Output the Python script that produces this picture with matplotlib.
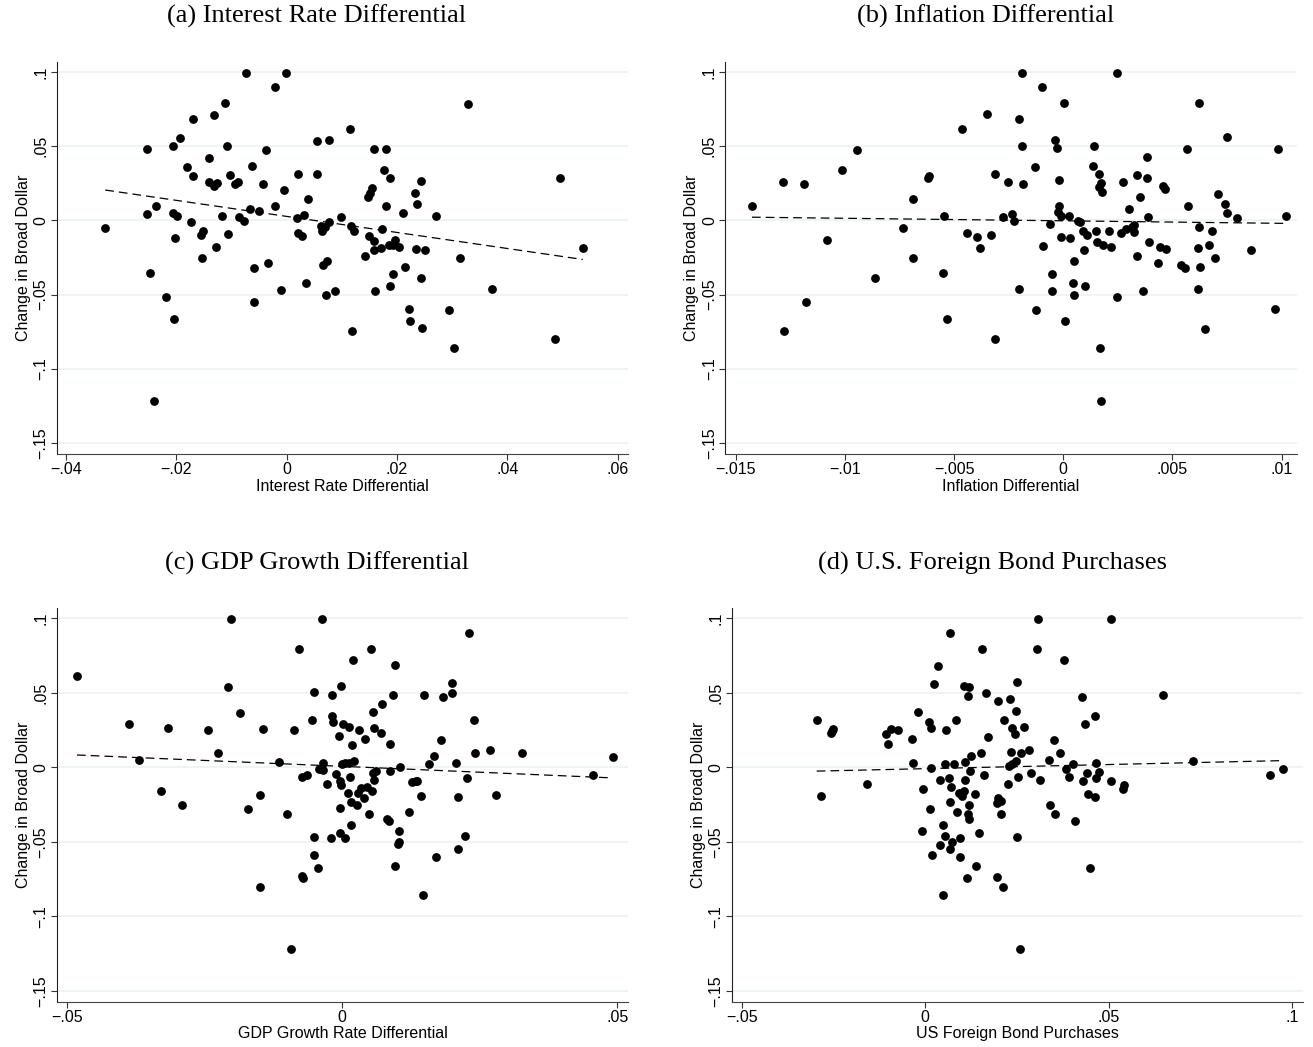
import numpy as np
import matplotlib
matplotlib.use("Agg")
from matplotlib import pyplot as plt

# (a) interest rate differential vs change in broad dollar
irate_x = [-0.0329, -0.0254, -0.0254, -0.0248, -0.0237, -0.0240, -0.0218, -0.0207, -0.0207, -0.0198,
           -0.0202, -0.0205, -0.0194, -0.0181, -0.0170, -0.0170, -0.0173, -0.0154, -0.0155, -0.0152,
           -0.0141, -0.0140, -0.0132, -0.0131, -0.0126, -0.0129, -0.0118, -0.0112, -0.0108, -0.0106,
           -0.0102, -0.0094, -0.0088, -0.0086, -0.0078, -0.0074, -0.0066, -0.0062, -0.0060, -0.0059,
           -0.0050, -0.0042, -0.0037, -0.0034, -0.0022, -0.0021, -0.0010, -0.0005, -0.0001, 0.0018,
           0.0020, 0.0021, 0.0027, 0.0031, 0.0035, 0.0039, 0.0055, 0.0055, 0.0062, 0.0065,
           0.0066, 0.0071, 0.0077, 0.0073, 0.0070, 0.0077, 0.0087, 0.0099, 0.0115, 0.0117,
           0.0122, 0.0119, 0.0142, 0.0148, 0.0152, 0.0155, 0.0149, 0.0158, 0.0158, 0.0160,
           0.0159, 0.0171, 0.0173, 0.0176, 0.0180, 0.0180, 0.0187, 0.0185, 0.0193, 0.0197,
           0.0203, 0.0192, 0.0188, 0.0211, 0.0215, 0.0222, 0.0224, 0.0232, 0.0237, 0.0244,
           0.0235, 0.0251, 0.0243, 0.0246, 0.0271, 0.0295, 0.0303, 0.0315, 0.0329, 0.0373,
           0.0487, 0.0495, 0.0537]
irate_y = [-0.0051, 0.0484, 0.0042, -0.0355, 0.0094, -0.1219, -0.0518, 0.0498, 0.0049, 0.0027,
           -0.0121, -0.0663, 0.0558, 0.0362, 0.0681, 0.0299, -0.0009, -0.0252, -0.0098, -0.0069,
           0.0422, 0.0259, 0.0232, 0.0712, 0.0254, -0.0179, 0.0027, 0.0792, 0.0498, -0.0089,
           0.0306, 0.0248, 0.0261, 0.0022, -0.0002, 0.0993, 0.0076, 0.0368, -0.0317, -0.0549,
           0.0065, 0.0246, 0.0471, -0.0286, 0.0897, 0.0094, -0.0467, 0.0205, 0.0993, 0.0018,
           0.0312, -0.0087, -0.0107, 0.0036, -0.0424, 0.0145, 0.0536, 0.0315, -0.0040, -0.0074,
           -0.0301, -0.0500, 0.0540, -0.0275, -0.0045, -0.0013, -0.0478, 0.0022, 0.0614, -0.0036,
           -0.0074, -0.0743, -0.0237, 0.0156, 0.0188, 0.0221, -0.0107, -0.0141, -0.0196, -0.0475,
           0.0484, -0.0185, -0.0056, 0.0342, 0.0484, 0.0094, 0.0288, -0.0167, -0.0163, -0.0129,
           -0.0179, -0.0364, -0.0444, 0.0049, -0.0313, -0.0594, -0.0674, 0.0183, 0.0112, 0.0268,
           -0.0192, -0.0196, -0.0388, -0.0725, 0.0031, -0.0603, -0.0859, -0.0252, 0.0786, -0.0462,
           -0.0799, 0.0286, -0.0183]

# (b) inflation differential
infl_x = [-0.01426, -0.01282, -0.01281, -0.01186, -0.01179, -0.01084, -0.01012, -0.00945, -0.00861, -0.00734,
          -0.00687, -0.00687, -0.00621, -0.00617, -0.00551, -0.00545, -0.00531, -0.00463, -0.00440, -0.00397,
          -0.00382, -0.00348, -0.00331, -0.00311, -0.00311, -0.00275, -0.00253, -0.00237, -0.00227, -0.00203,
          -0.00202, -0.00191, -0.00189, -0.00186, -0.00130, -0.00124, -0.00098, -0.00095, -0.00061, -0.00052,
          -0.00052, -0.00038, -0.00027, -0.00020, -0.00020, -0.00026, -0.00012, -0.00011, 0.00003, 0.00008,
          0.00027, 0.00031, 0.00050, 0.00044, 0.00047, 0.00066, 0.00076, 0.00090, 0.00093, 0.00101,
          0.00110, 0.00137, 0.00142, 0.00151, 0.00153, 0.00165, 0.00171, 0.00165, 0.00177, 0.00168,
          0.00171, 0.00183, 0.00209, 0.00217, 0.00244, 0.00246, 0.00264, 0.00273, 0.00285, 0.00299,
          0.00313, 0.00325, 0.00325, 0.00336, 0.00337, 0.00351, 0.00363, 0.00385, 0.00385, 0.00386,
          0.00392, 0.00432, 0.00443, 0.00455, 0.00464, 0.00469, 0.00539, 0.00556, 0.00568, 0.00573,
          0.00615, 0.00617, 0.00621, 0.00623, 0.00627, 0.00650, 0.00666, 0.00682, 0.00696, 0.00710,
          0.00742, 0.00748, 0.00750, 0.00795, 0.00858, 0.00969, 0.00985, 0.01021]
infl_y = [0.0094, 0.0257, -0.0743, 0.0248, -0.0549, -0.0132, 0.0342, 0.0471, -0.0388, -0.0051,
          0.0145, -0.0252, 0.0288, 0.0297, -0.0355, 0.0027, -0.0663, 0.0614, -0.0087, -0.0109,
          -0.0185, 0.0714, -0.0096, 0.0312, -0.0799, 0.0020, 0.0261, 0.0045, -0.0002, 0.0681,
          -0.0462, 0.0500, 0.0993, 0.0246, 0.0362, -0.0603, 0.0897, -0.0174, -0.0025, -0.0362,
          -0.0478, 0.0540, 0.0487, 0.0270, 0.0094, 0.0056, 0.0033, -0.0109, 0.0792, -0.0674,
          0.0027, -0.0121, -0.0272, -0.0424, -0.0502, -0.0007, -0.0013, -0.0074, -0.0201, -0.0444,
          -0.0100, 0.0368, 0.0500, -0.0069, -0.0147, 0.0315, 0.0250, 0.0223, 0.0190, -0.0859,
          -0.1219, -0.0165, -0.0069, -0.0176, -0.0518, 0.0993, -0.0087, 0.0261, -0.0058, 0.0076,
          -0.0045, -0.0033, -0.0078, 0.0306, -0.0237, 0.0156, -0.0475, 0.0424, 0.0286, 0.0022,
          -0.0145, -0.0286, -0.0179, 0.0234, 0.0210, -0.0192, -0.0297, -0.0317, 0.0484, 0.0096,
          -0.0464, -0.0185, 0.0788, -0.0045, -0.0313, -0.0728, -0.0163, -0.0069, -0.0252, 0.0181,
          0.0112, 0.0560, 0.0049, 0.0018, -0.0199, -0.0594, 0.0482, 0.0031]

# (c) GDP growth rate differential
gdp_x = [-0.04812, -0.03862, -0.03692, -0.03281, -0.03160, -0.02900, -0.02427, -0.02258, -0.02070, -0.02010,
         -0.01852, -0.01707, -0.01483, -0.01489, -0.01429, -0.01138, -0.01005, -0.00926, -0.00866, -0.00781,
         -0.00732, -0.00726, -0.00714, -0.00630, -0.00545, -0.00515, -0.00515, -0.00508, -0.00442, -0.00418,
         -0.00369, -0.00351, -0.00345, -0.00278, -0.00188, -0.00188, -0.00169, -0.00200, -0.00103, -0.00048,
         -0.00036, -0.00024, -0.00042, -0.00036, -0.00024, 0.00018, 0.00006, 0.00061, 0.00048, 0.00127,
         0.00121, 0.00115, 0.00145, 0.00157, 0.00188, 0.00163, 0.00212, 0.00206, 0.00266, 0.00309,
         0.00285, 0.00339, 0.00400, 0.00424, 0.00460, 0.00496, 0.00527, 0.00539, 0.00569, 0.00581,
         0.00557, 0.00611, 0.00587, 0.00709, 0.00720, 0.00811, 0.00860, 0.00872, 0.00878, 0.00926,
         0.00962, 0.00962, 0.01011, 0.01035, 0.01035, 0.01053, 0.01211, 0.01271, 0.01338, 0.01368,
         0.01441, 0.01465, 0.01495, 0.01574, 0.01665, 0.01707, 0.01804, 0.01840, 0.01991, 0.01998,
         0.02070, 0.02100, 0.02107, 0.02240, 0.02264, 0.02312, 0.02397, 0.02409, 0.02682, 0.02790,
         0.03275, 0.04552, 0.04915]
gdp_y = [0.0615, 0.0289, 0.0047, -0.0159, 0.0262, -0.0253, 0.0248, 0.0098, 0.0537, 0.0996,
         0.0362, -0.0282, -0.0186, -0.0801, 0.0260, 0.0036, -0.0311, -0.1221, 0.0251, 0.0792,
         -0.0067, -0.0729, -0.0740, -0.0051, 0.0315, -0.0591, -0.0465, 0.0503, -0.0673, -0.0013,
         0.0996, 0.0031, -0.0018, -0.0110, 0.0485, 0.0347, 0.0306, -0.0477, -0.0047, 0.0210,
         -0.0089, 0.0546, -0.0273, -0.0443, -0.0119, 0.0291, 0.0022, 0.0031, -0.0472, 0.0273,
         0.0027, -0.0174, -0.0067, -0.0235, 0.0148, -0.0387, 0.0043, 0.0718, -0.0253, 0.0251,
         -0.0174, -0.0141, -0.0204, 0.0192, -0.0130, -0.0313, 0.0792, -0.0157, 0.0371, 0.0262,
         -0.0040, -0.0025, -0.0085, 0.0228, 0.0423, -0.0349, -0.0360, 0.0159, -0.0022, 0.0485,
         0.0685, -0.0662, -0.0515, -0.0499, -0.0425, 0.0000, -0.0300, -0.0096, -0.0089, -0.0094,
         -0.0190, -0.0859, 0.0485, 0.0022, 0.0076, -0.0602, 0.0183, 0.0472, 0.0499, 0.0564,
         0.0031, -0.0197, -0.0548, -0.0461, -0.0074, 0.0902, 0.0315, 0.0098, 0.0114, -0.0183,
         0.0098, -0.0051, 0.0067]

# (d) US foreign bond purchases
bond_x = [-0.02955, -0.02827, -0.02555, -0.02527, -0.02500, -0.01573, -0.01055, -0.01000, -0.00936, -0.00736,
          -0.00364, -0.00345, -0.00209, -0.00055, -0.00091, 0.00100, 0.00155, 0.00118, 0.00164, 0.00191,
          0.00236, 0.00355, 0.00409, 0.00409, 0.00482, 0.00482, 0.00545, 0.00545, 0.00573, 0.00655,
          0.00673, 0.00673, 0.00700, 0.00673, 0.00736, 0.00791, 0.00845, 0.00873, 0.00927, 0.00936,
          0.00936, 0.01009, 0.01064, 0.01045, 0.01082, 0.01082, 0.01136, 0.01155, 0.01155, 0.01191,
          0.01191, 0.01200, 0.01218, 0.01245, 0.01345, 0.01373, 0.01473, 0.01518, 0.01536, 0.01591,
          0.01655, 0.01718, 0.01969, 0.01960, 0.01951, 0.01978, 0.02060, 0.02069, 0.02123, 0.02151,
          0.02242, 0.02287, 0.02296, 0.02332, 0.02350, 0.02377, 0.02432, 0.02459, 0.02477, 0.02496,
          0.02505, 0.02523, 0.02604, 0.02586, 0.02686, 0.02822, 0.02868, 0.03049, 0.03067, 0.03131,
          0.03358, 0.03385, 0.03494, 0.03539, 0.03657, 0.03784, 0.03829, 0.03920, 0.04038, 0.04083,
          0.04265, 0.04310, 0.04338, 0.04419, 0.04446, 0.04483, 0.04628, 0.04628, 0.04655, 0.04655,
          0.04728, 0.05055, 0.05064, 0.05399, 0.05426, 0.06479, 0.07305, 0.09392, 0.09737]
bond_y = [0.0315, -0.0190, 0.0233, 0.0244, 0.0257, -0.0110, 0.0224, 0.0157, 0.0260, 0.0248,
          0.0192, 0.0031, 0.0369, -0.0143, -0.0425, 0.0306, 0.0262, -0.0282, -0.0007, -0.0591,
          0.0562, 0.0682, -0.0085, -0.0519, -0.0389, -0.0859, 0.0022, -0.0463, 0.0248, -0.0072,
          0.0902, -0.0235, -0.0130, -0.0550, -0.0503, 0.0022, 0.0315, -0.0298, -0.0174, -0.0472,
          -0.0602, -0.0190, -0.0159, 0.0544, -0.0083, 0.0034, -0.0745, -0.0313, 0.0481, -0.0349,
          -0.0253, 0.0539, -0.0025, 0.0076, -0.0181, -0.0664, -0.0443, 0.0098, 0.0792, -0.0051,
          0.0499, 0.0206, 0.0445, -0.0733, -0.0242, -0.0208, -0.0224, -0.0315, -0.0801, 0.0318,
          -0.0112, 0.0009, 0.0456, 0.0103, 0.0022, 0.0262, 0.0221, 0.0043, 0.0380, 0.0573,
          -0.0465, -0.0067, 0.0098, -0.1219, 0.0273, 0.0114, -0.0040, 0.0794, 0.0996, -0.0085,
          0.0049, -0.0253, 0.0183, -0.0311, 0.0098, 0.0718, -0.0011, -0.0067, 0.0022, -0.0362,
          0.0474, -0.0094, 0.0289, -0.0040, -0.0179, -0.0673, 0.0345, -0.0201, 0.0031, -0.0072,
          -0.0031, 0.0998, -0.0092, -0.0148, -0.0119, 0.0485, 0.0045, -0.0054, -0.0009]

titles = ["(a) Interest Rate Differential", "(b) Inflation Differential",
          "(c) GDP Growth Differential", "(d) U.S. Foreign Bond Purchases"]
xlabels = ["Interest Rate Differential", "Inflation Differential",
           "GDP Growth Rate Differential", "US Foreign Bond Purchases"]
ylabel = "Change in Broad Dollar"
yticks = [-0.15, -0.1, -0.05, 0, 0.05, 0.1]
ytick_labels = ["\u2212.15", "\u2212.1", "\u2212.05", "0", ".05", ".1"]
xticks = [[-0.04, -0.02, 0, 0.02, 0.04, 0.06],
          [-0.015, -0.01, -0.005, 0, 0.005, 0.01],
          [-0.05, 0, 0.05],
          [-0.05, 0, 0.05, 0.1]]
xtick_labels = [["\u2212.04", "\u2212.02", "0", ".02", ".04", ".06"],
                ["\u2212.015", "\u2212.01", "\u2212.005", "0", ".005", ".01"],
                ["\u2212.05", "0", ".05"],
                ["\u2212.05", "0", ".05", ".1"]]
xlims = [(-0.0417, 0.0619), (-0.01548, 0.01069), (-0.0518, 0.0520), (-0.0527, 0.1028)]

data = [(irate_x, irate_y), (infl_x, infl_y), (gdp_x, gdp_y), (bond_x, bond_y)]

W, H = 1313, 1047
fig = plt.figure(figsize=(W / 100, H / 100), dpi=100)
# axes boxes in pixels: left, top, right, bottom
boxes = [(56.7, 62, 628, 454), (725.3, 62, 1296.7, 454),
         (56.7, 608.3, 628.3, 1001.7), (731.7, 608.3, 1302.7, 1001.7)]
title_pos = [(317, 16), (986, 16), (317, 563), (992, 563)]

sans = ["Liberation Sans", "DejaVu Sans"]
serif = ["Liberation Serif", "DejaVu Serif"]

for i in range(4):
    l, t, r, b = boxes[i]
    ax = fig.add_axes([l / W, 1 - b / H, (r - l) / W, (b - t) / H])
    x = np.array(data[i][0])
    y = np.array(data[i][1])
    ax.scatter(x, y, s=40, color="black", linewidths=0, zorder=3)
    k, c = np.polyfit(x, y, 1)
    xs = np.array([x.min(), x.max()])
    ax.plot(xs, k * xs + c, color="black", lw=0.9, ls=(0, (7, 4)), zorder=2)

    ax.set_xlim(*xlims[i])
    ax.set_ylim(-0.1573, 0.1067)
    ax.set_yticks(yticks)
    ax.set_yticklabels(ytick_labels, rotation=90, va="center", family=sans, fontsize=11.5)
    ax.set_xticks(xticks[i])
    ax.set_xticklabels(xtick_labels[i], family=sans, fontsize=11.5)
    ax.grid(axis="y", color="#eaf2f3", lw=1.2, zorder=0)
    ax.set_axisbelow(True)
    for s in ["top", "right"]:
        ax.spines[s].set_visible(False)
    ax.spines["left"].set_color("#222222")
    ax.spines["bottom"].set_color("#444444")
    ax.tick_params(length=4, width=0.8, color="#333333", pad=2)
    ax.set_xlabel(xlabels[i], family=sans, fontsize=11.5, labelpad=1)
    ax.set_ylabel(ylabel, family=sans, fontsize=11.5, labelpad=2)

    tx, ty = title_pos[i]
    fig.text(tx / W, 1 - ty / H, titles[i], ha="center", va="center",
             family=serif, fontsize=19)

fig.savefig("out.png", dpi=100)
